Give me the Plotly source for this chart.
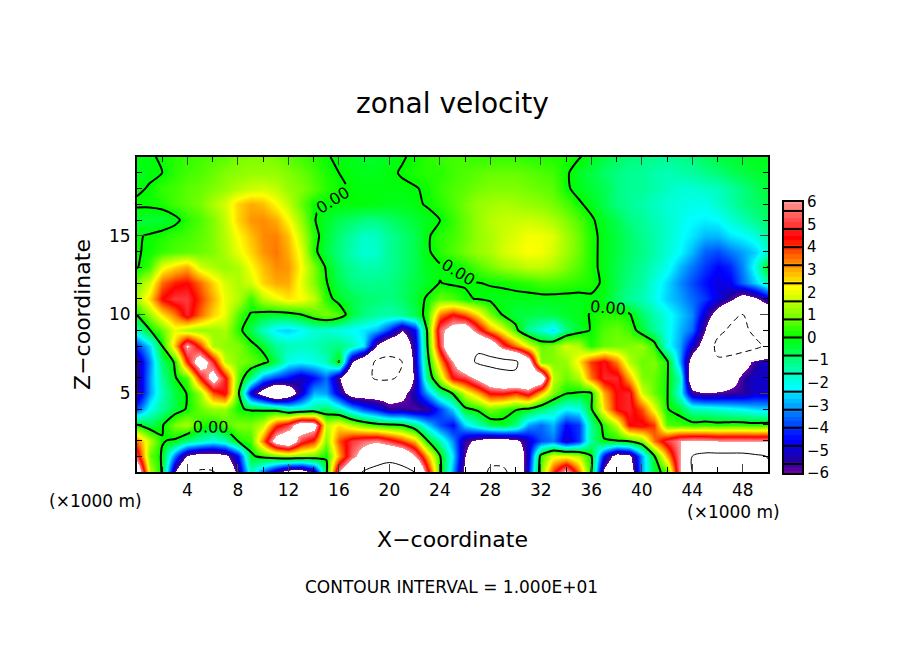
"""Zonal velocity cross-section, redrawn with plotly."""

import plotly.graph_objects as go

x_km = list(range(0, 51))
z_km = list(range(20, -1, -1))

# one row per height, top of the domain first
zonal_u = [
    [-0.1, -0.1, 0.1, 0.3, 0.4, 0.5, 0.6, 0.7, 0.9, 1.0,
     1.0, 0.9, 0.7, 0.5, 0.3, 0.05, -0.1, -0.2, -0.3, -0.3,
     -0.2, -0.05, 0.1, 0.3, 0.4, 0.5, 0.5, 0.4, 0.4, 0.4,
     0.4, 0.3, 0.3, 0.2, 0.2, 0.05, -0.2, -0.5, -0.7, -0.9,
     -1.0, -1.1, -1.2, -1.1, -0.9, -0.7, -0.5, -0.4, -0.3, -0.2, -0.2],
    [-0.2, -0.1, 0.0, 0.3, 0.5, 0.6, 0.8, 1.0, 1.1, 1.2,
     1.2, 1.2, 1.0, 0.8, 0.5, 0.2, 0.0, -0.1, -0.2, -0.2,
     -0.1, 0.05, 0.2, 0.3, 0.3, 0.5, 0.6, 0.7, 0.8, 0.8,
     0.8, 0.7, 0.6, 0.5, 0.1, -0.3, -0.5, -0.8, -1.0, -1.2,
     -1.2, -1.4, -1.5, -1.4, -1.3, -1.1, -0.9, -0.7, -0.5, -0.4, -0.3],
    [-0.1, 0.05, 0.4, 0.5, 0.7, 0.8, 1.0, 1.2, 1.5, 1.7,
     1.8, 1.6, 1.2, 1.0, 0.7, 0.3, 0.1, -0.05, -0.1, -0.1,
     -0.1, -0.1, -0.05, 0.1, 0.4, 0.6, 0.7, 0.9, 1.0, 1.0,
     1.0, 0.9, 0.8, 0.7, 0.1, -0.2, -0.4, -0.6, -1.0, -1.2,
     -1.2, -1.4, -1.6, -1.8, -1.8, -1.7, -1.6, -1.3, -1.0, -0.7, -0.4],
    [0.1, 0.1, 0.2, 0.5, 0.7, 0.9, 1.4, 1.8, 2.6, 3.0,
     2.8, 2.2, 1.6, 0.8, 0.05, -0.05, -0.05, -0.05, -0.05, -0.1,
     -0.2, -0.2, -0.1, 0.05, 0.3, 0.6, 0.9, 1.2, 1.3, 1.4,
     1.3, 1.2, 1.1, 0.9, 0.6, 0.1, -0.2, -0.6, -1.0, -1.2,
     -1.4, -1.6, -1.8, -1.9, -2.0, -2.0, -1.7, -1.4, -1.0, -0.8, -0.6],
    [-0.4, -0.4, -0.4, -0.2, 0.3, 0.6, 1.0, 1.6, 2.6, 3.2,
     3.3, 3.0, 2.2, 1.2, 0.05, -0.3, -0.6, -0.8, -1.0, -1.0,
     -0.8, -0.6, -0.4, -0.2, -0.02, 0.4, 0.8, 1.2, 1.5, 1.6,
     1.7, 1.7, 1.6, 1.4, 1.0, 0.6, 0.1, -0.3, -0.6, -1.0,
     -1.2, -1.5, -1.7, -2.0, -2.2, -2.3, -2.2, -1.8, -1.5, -1.1, -0.8],
    [-0.05, 0.05, 0.2, 0.4, 0.5, 0.7, 1.0, 1.5, 2.2, 2.8,
     3.3, 3.4, 2.8, 1.6, 0.3, -0.4, -0.9, -1.3, -1.7, -1.6,
     -1.2, -0.9, -0.6, -0.1, 0.3, 0.5, 0.8, 1.2, 1.4, 1.7,
     1.9, 2.1, 2.1, 1.9, 1.3, 0.8, 0.2, -0.2, -0.5, -0.8,
     -1.1, -1.4, -1.7, -2.1, -2.4, -2.8, -2.8, -2.4, -2.2, -1.9, -1.2],
    [-0.05, 0.1, 0.4, 0.6, 0.7, 0.8, 1.0, 1.4, 2.0, 2.6,
     3.2, 3.5, 3.0, 2.0, 0.2, -0.5, -1.0, -1.5, -1.8, -1.7,
     -1.2, -0.9, -0.6, -0.1, 0.3, 0.6, 0.9, 1.2, 1.4, 1.8,
     2.0, 2.2, 2.1, 1.8, 1.3, 0.8, 0.2, -0.2, -0.5, -0.8,
     -1.0, -1.4, -1.8, -2.2, -2.8, -3.6, -3.8, -3.4, -3.0, -2.6, -1.8],
    [-0.05, 0.5, 2.0, 2.6, 3.0, 1.8, 1.4, 1.2, 1.4, 2.2,
     2.8, 3.3, 3.2, 2.2, 1.0, -0.1, -0.8, -1.2, -1.4, -1.4,
     -1.2, -0.9, -0.6, -0.2, -0.1, -0.05, 0.2, 0.6, 0.9, 1.2,
     1.4, 1.6, 1.6, 1.4, 1.0, 0.6, 0.2, -0.2, -0.6, -0.9,
     -1.2, -1.6, -2.0, -2.8, -3.4, -4.0, -4.5, -4.2, -3.2, -2.0, 0.05],
    [1.0, 1.8, 3.6, 4.2, 4.4, 3.6, 2.6, 1.8, 1.4, 1.8,
     2.6, 3.0, 3.0, 2.0, 1.0, 0.05, -0.6, -1.0, -1.1, -1.1,
     -1.0, -0.8, -0.5, -0.3, 0.02, -0.1, -0.05, -0.02, 0.05, 0.1,
     0.2, 0.3, 0.5, 0.5, 0.4, 0.3, 0.2, -0.1, -0.6, -1.0,
     -1.3, -1.9, -2.5, -3.2, -3.8, -4.4, -4.8, -4.6, -3.5, -2.6, -1.5],
    [1.4, 2.6, 4.4, 5.0, 5.0, 4.0, 3.0, 2.0, 1.5, 0.4,
     1.5, 2.0, 2.4, 2.2, 1.6, 0.3, -0.3, -0.6, -0.8, -0.9,
     -1.0, -0.8, -0.4, 0.1, 0.8, 0.6, 0.1, -0.05, -0.2, -0.2,
     -0.2, -0.2, -0.2, -0.2, -0.2, -0.2, -0.1, -0.2, -0.8, -1.2,
     -1.5, -2.0, -2.6, -3.0, -3.5, -4.0, -4.8, -5.6, -7.0, -6.4, -5.0],
    [0.05, 1.2, 2.4, 3.4, 4.8, 3.6, 2.6, 2.0, 0.6, -0.05,
     -0.3, -0.4, -0.3, 0.0, 0.6, 1.0, 0.6, -0.5, -1.0, -1.3,
     -1.4, -1.2, -0.6, 0.3, 3.5, 4.5, 3.8, 2.5, 1.0, -0.1,
     -0.5, -0.5, -0.6, -0.5, -0.3, -0.2, 0.05, 0.3, 0.3, 0.1,
     -0.8, -1.4, -2.0, -2.6, -3.2, -5.0, -7.0, -9.0, -10.0, -9.0, -8.0],
    [-1.5, -0.05, 0.8, 2.0, 1.4, 1.2, 1.2, 1.4, 0.3, -0.6,
     -1.6, -2.4, -2.6, -2.2, -1.8, -1.8, -2.0, -2.2, -2.4, -2.8,
     -4.0, -6.0, -4.5, 0.1, 5.5, 7.0, 7.5, 5.0, 3.2, 2.0,
     0.3, -1.2, -1.8, -2.5, -1.0, -0.3, 0.05, 0.6, 0.8, 0.5,
     -0.4, -1.2, -2.0, -2.8, -3.5, -6.0, -9.0, -10.5, -11.0, -9.0, -7.0],
    [-4.0, -2.5, 0.0, 2.8, 6.2, 4.0, 1.4, 1.1, 1.0, 0.3,
     -0.3, -1.2, -1.5, -1.6, -1.5, -1.2, -1.0, -1.5, -2.4, -6.3,
     -8.0, -8.0, -5.0, -0.1, 5.0, 9.0, 9.5, 9.5, 8.0, 5.0,
     3.5, 2.0, 0.8, 1.0, 1.8, 1.4, 0.2, 0.8, 0.9, 1.0,
     1.2, 0.4, -2.0, -3.0, -5.0, -7.0, -11.0, -11.5, -12.0, -11.0, -9.0],
    [-5.5, -3.2, -0.8, 0.1, 4.2, 7.5, 4.8, 1.6, 1.0, 0.8,
     0.4, -0.6, -2.0, -2.2, -2.0, -1.6, 0.05, -6.0, -8.0, -10.5,
     -11.0, -10.0, -5.0, -0.5, 3.0, 6.0, 8.5, 10.5, 11.0, 11.0,
     10.5, 7.5, 1.0, 1.0, 1.2, 2.4, 4.0, 4.6, 3.4, 1.5,
     0.8, 1.0, 0.2, -3.0, -7.0, -9.0, -9.5, -9.0, -7.0, -5.5, -5.0],
    [-5.5, -3.0, -1.2, -0.05, 0.5, 4.2, 7.0, 4.6, 0.8, -1.0,
     -3.2, -4.0, -4.5, -5.2, -4.5, -3.5, -5.8, -9.0, -9.0, -10.5,
     -10.5, -9.5, -5.5, -1.0, 1.5, 4.5, 5.0, 6.5, 8.0, 9.0,
     9.5, 9.0, 8.0, 1.6, 0.8, 1.4, 3.5, 4.8, 4.8, 3.0,
     1.0, 0.8, 0.1, -1.5, -8.0, -9.5, -8.5, -7.0, -5.5, -5.0, -5.0],
    [-5.5, -3.0, -1.5, -0.5, 0.05, 1.2, 3.8, 4.6, 0.4, -5.0,
     -7.0, -9.0, -7.5, -5.0, -2.8, -3.0, -5.0, -7.0, -7.0, -7.0,
     -7.0, -6.5, -5.0, -3.0, -1.0, 0.05, 1.8, 3.0, 4.5, 4.6,
     4.0, 5.0, 2.8, 1.0, 0.05, -0.1, -0.05, 3.0, 4.5, 4.8,
     1.8, 0.8, 0.1, -2.0, -5.5, -6.0, -5.8, -5.6, -5.5, -5.0, -5.0],
    [-3.8, -2.0, -1.2, -0.5, 0.1, 0.8, 1.2, 1.2, 0.1, -0.1,
     -0.2, -0.5, -1.5, -1.6, -1.2, -0.8, -1.5, -2.8, -3.8, -4.5,
     -5.5, -5.5, -5.8, -5.5, -4.0, -2.5, -0.2, 0.2, 1.0, 0.5,
     0.1, -0.1, -0.8, -1.5, -2.2, -2.0, -0.1, 2.5, 4.5, 4.8,
     3.8, 2.0, 0.05, -0.4, -1.5, -1.6, -1.8, -2.0, -2.2, -2.5, -2.6],
    [0.05, -0.6, -0.1, 1.0, 1.4, 0.3, 0.05, 0.6, 1.0, 1.0,
     1.6, 4.0, 5.0, 7.5, 7.0, 1.6, 2.4, 1.5, 0.8, 0.3,
     0.1, -0.05, -1.0, -2.5, -3.8, -4.5, -2.5, -1.5, -0.6, -0.3,
     -1.0, -3.0, -3.5, -2.8, -4.5, -4.0, -1.2, 0.3, 1.6, 4.4,
     4.6, 4.0, 0.6, 0.5, 0.3, 0.4, 0.3, 0.4, 0.4, 0.3, 0.4],
    [3.5, 1.5, 0.05, -0.1, -1.0, -1.5, -2.0, -1.5, 0.1, 0.5,
     3.5, 7.0, 8.0, 5.0, 4.0, 1.0, 3.8, 5.0, 5.5, 5.8,
     5.0, 4.0, 2.8, 0.05, -1.5, -3.2, -5.5, -6.5, -7.0, -7.0,
     -6.5, -5.0, -3.8, -3.4, -5.0, -4.0, -1.2, -0.05, 0.0, 0.3,
     1.0, 3.5, 5.0, 6.0, 6.3, 6.2, 6.0, 6.0, 6.0, 6.0, 6.0],
    [5.0, 0.8, -0.1, -3.5, -6.2, -7.0, -7.0, -6.5, -4.5, -0.2,
     0.3, 0.8, 1.2, 1.0, 0.8, 0.1, 3.0, 5.5, 7.0, 8.5,
     9.0, 8.5, 6.0, 3.0, 0.1, -2.5, -6.0, -8.0, -9.0, -9.0,
     -8.0, -5.0, 0.4, 2.0, 2.0, 1.5, 0.05, -4.5, -7.0, -6.5,
     -3.0, -0.05, 3.0, 6.0, 10.0, 11.0, 11.0, 11.0, 11.0, 10.5, 9.9],
    [8.0, 1.5, -0.1, -6.0, -9.0, -10.5, -10.3, -8.0, -5.5, -1.5,
     -3.5, -5.5, -7.0, -7.2, -5.5, -0.3, 6.0, 8.5, 10.3, 11.0,
     11.5, 11.0, 10.0, 5.0, 0.3, -3.0, -6.5, -8.5, -10.5, -10.5,
     -9.0, -4.5, 0.8, 4.0, 6.5, 3.5, 0.02, -6.5, -8.5, -7.5,
     -3.0, -0.5, 0.5, 6.0, 10.0, 11.5, 12.0, 12.0, 11.5, 11.0, 10.5],
]

x_ticks = [4, 8, 12, 16, 20, 24, 28, 32, 36, 40, 44, 48]
z_ticks = [5, 10, 15]

cbar_ticks = [-6, -5, -4, -3, -2, -1, 0, 1, 2, 3, 4, 5, 6]
cbar_edges = [-5.6, -4.8, -4.0, -3.2, -2.4, -1.6, -0.8, 0, 0.8, 1.6, 2.4, 3.2, 4.0, 4.8, 5.6]
cbar_levels = [-6 + i * 0.2 for i in range(61)]

W, H = 904, 654
FONT = 'DejaVu Sans'
Z_LIM = 6.6


def scale_pos(v):
    return (v + Z_LIM) / (2 * Z_LIM)


color_values = [-6, -5.4, -4.5, -3.3, -2.2, -1.0, 0, 1.0, 2.2, 3.4, 4.4, 6]
color_names = ['#6e00a0', '#1e00a0', '#0000ff', '#0080ff', '#00ffff', '#00ff80',
               '#00ff00', '#80ff00', '#ffff00', '#ff8000', '#ff0000', '#ff9696']
colorscale = [[0, '#ffffff'], [scale_pos(-6.01), '#ffffff']]
colorscale += [[scale_pos(v), c] for v, c in zip(color_values, color_names)]
colorscale += [[scale_pos(6.01), '#ffffff'], [1, '#ffffff']]

z_up = zonal_u[::-1]
z_axis = z_km[::-1]

fig = go.Figure()

fig.add_trace(go.Heatmap(
    x=x_km, y=z_axis, z=z_up, colorscale=colorscale,
    zmin=-Z_LIM, zmax=Z_LIM, zsmooth='best', showscale=False, hoverinfo='skip',
))

label_font = {'family': FONT, 'size': 16, 'color': 'black'}
fig.add_trace(go.Contour(
    x=x_km, y=z_axis, z=z_up, showscale=False, hoverinfo='skip',
    contours={'start': 0, 'end': 0, 'size': 1, 'coloring': 'none', 'showlabels': True,
              'labelfont': label_font, 'labelformat': '.2f'},
    line={'color': 'black', 'width': 2, 'smoothing': 0.6},
))
fig.add_trace(go.Contour(
    x=x_km, y=z_axis, z=z_up, showscale=False, hoverinfo='skip',
    contours={'start': 10, 'end': 10, 'size': 1, 'coloring': 'none'},
    line={'color': 'black', 'width': 1},
))
fig.add_trace(go.Contour(
    x=x_km, y=z_axis, z=z_up, showscale=False, hoverinfo='skip',
    contours={'start': -10, 'end': -10, 'size': 1, 'coloring': 'none'},
    line={'color': 'black', 'width': 1, 'dash': '6px,4px'},
))

# colour key, drawn as its own small heatmap
fig.add_trace(go.Heatmap(
    x=[0, 1], y=cbar_levels, z=[[v, v] for v in cbar_levels], colorscale=colorscale,
    zmin=-Z_LIM, zmax=Z_LIM, showscale=False, hoverinfo='skip', xaxis='x2', yaxis='y2',
))
for edge in cbar_edges:
    fig.add_shape(type='line', xref='x2 domain', yref='y2', x0=0, x1=1, y0=edge, y1=edge,
                  line={'color': 'black', 'width': 2})

tick_font = {'family': FONT, 'size': 17, 'color': 'black'}
title_font = {'family': FONT, 'size': 22, 'color': 'black'}

fig.update_layout(
    width=W, height=H, margin={'l': 0, 'r': 0, 't': 0, 'b': 0, 'autoexpand': False},
    paper_bgcolor='white', plot_bgcolor='white', showlegend=False,
    xaxis={
        'domain': [137 / W, 768 / W], 'range': [0, 50], 'tickvals': x_ticks,
        'ticks': 'inside', 'ticklen': 8, 'tickwidth': 1, 'mirror': 'allticks',
        'linecolor': 'black', 'linewidth': 2, 'showgrid': False, 'zeroline': False,
        'tickfont': tick_font, 'ticklabelstandoff': 2,
        'minor': {'dtick': 2, 'ticks': 'inside', 'ticklen': 5, 'tickcolor': 'black'},
        'title': {'text': 'X\u2212coordinate', 'font': title_font, 'standoff': 32},
    },
    yaxis={
        'domain': [(H - 472) / H, (H - 157) / H], 'range': [0, 20], 'tickvals': z_ticks,
        'ticks': 'inside', 'ticklen': 8, 'tickwidth': 1, 'mirror': 'allticks',
        'linecolor': 'black', 'linewidth': 2, 'showgrid': False, 'zeroline': False,
        'tickfont': tick_font, 'ticklabelstandoff': 1,
        'minor': {'dtick': 1, 'ticks': 'inside', 'ticklen': 5, 'tickcolor': 'black'},
        'title': {'text': 'Z\u2212coordinate', 'font': title_font, 'standoff': 12},
    },
    xaxis2={
        'domain': [784 / W, 802 / W], 'range': [0, 1], 'anchor': 'y2', 'showticklabels': False,
        'ticks': '', 'mirror': True, 'linecolor': 'black', 'linewidth': 2,
        'showgrid': False, 'zeroline': False,
    },
    yaxis2={
        'domain': [(H - 473) / H, (H - 202) / H], 'range': [-6, 6], 'anchor': 'x2', 'side': 'right',
        'tickvals': cbar_ticks, 'ticks': '', 'mirror': True, 'linecolor': 'black', 'linewidth': 2,
        'showgrid': False, 'zeroline': False, 'tickfont': {'family': FONT, 'size': 15, 'color': 'black'},
    },
    annotations=[
        {'text': 'zonal velocity', 'xref': 'paper', 'yref': 'paper', 'x': 452 / W, 'y': (H - 104) / H,
         'xanchor': 'center', 'yanchor': 'middle', 'showarrow': False,
         'font': {'family': FONT, 'size': 28, 'color': 'black'}},
        {'text': '(\u00d71000 m)', 'xref': 'paper', 'yref': 'paper', 'x': 95 / W, 'y': (H - 501) / H,
         'xanchor': 'center', 'yanchor': 'middle', 'showarrow': False, 'font': tick_font},
        {'text': '(\u00d71000 m)', 'xref': 'paper', 'yref': 'paper', 'x': 733 / W, 'y': (H - 512) / H,
         'xanchor': 'center', 'yanchor': 'middle', 'showarrow': False, 'font': tick_font},
        {'text': 'CONTOUR INTERVAL = 1.000E+01', 'xref': 'paper', 'yref': 'paper', 'x': 451 / W,
         'y': (H - 587) / H, 'xanchor': 'center', 'yanchor': 'middle', 'showarrow': False,
         'font': {'family': FONT, 'size': 17, 'color': 'black'}},
    ],
)

fig.write_html('out.html', config={'displayModeBar': False},
               post_script="document.body.style.margin='0';")
